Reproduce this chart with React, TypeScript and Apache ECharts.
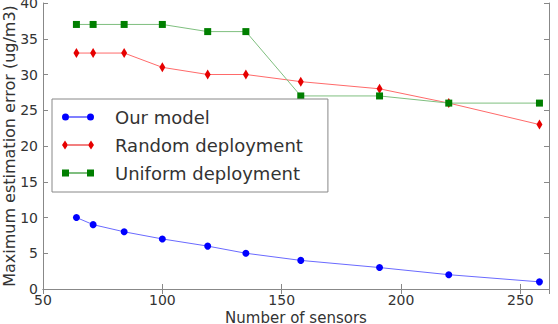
import React, { useEffect, useRef } from "react";
import * as echarts from "echarts";

const sensors = [64, 71, 84, 100, 119, 135, 158, 191, 220, 258];
const ourModel = [10, 9, 8, 7, 6, 5, 4, 3, 2, 1];
const randomDeployment = [33, 33, 33, 31, 30, 30, 29, 28, 26, 23];
const uniformDeployment = [37, 37, 37, 37, 36, 36, 27, 27, 26, 26];
const seriesNames = ["Our model", "Random deployment", "Uniform deployment"];

const FONT = "DejaVu Sans";

const iconCircle =
  "path://M0,3.5a3.5,3.5 0 1,0 7,0a3.5,3.5 0 1,0 -7,0zM7,3h18v1h-18zM25,3.5a3.5,3.5 0 1,0 7,0a3.5,3.5 0 1,0 -7,0z";
const iconDiamond =
  "path://M3,0L6,4.5L3,9L0,4.5zM6,4h20v1h-20zM29,0L32,4.5L29,9L26,4.5z";
const iconSquare = "path://M0,0h7v7h-7zM7,3h18v1h-18zM25,0h7v7h-7z";

export default function App() {
  const ref = useRef<HTMLDivElement>(null);
  useEffect(() => {
    if (!ref.current) return;
    const chart = echarts.init(ref.current, undefined, { renderer: "svg" });
    const pair = (ys: number[]) => sensors.map((x, i) => [x, ys[i]]);
    const frame = { lineStyle: { color: "#888", width: 1 } };
    const tick = { inside: true, length: 5, lineStyle: { color: "#888" } };
    chart.setOption({
      animation: false,
      textStyle: { fontFamily: FONT },
      grid: {
        left: 43,
        right: 9,
        top: 3,
        bottom: 35,
        containLabel: false,
        outerBoundsMode: "none",
      },
      legend: {
        orient: "vertical",
        left: 52,
        top: 99,
        backgroundColor: "#fff",
        borderColor: "#888",
        borderWidth: 1,
        borderRadius: 0,
        padding: [9, 25, 10, 10],
        itemWidth: 32,
        itemHeight: 10,
        itemGap: 10,
        textStyle: {
          fontFamily: FONT,
          fontSize: 18,
          lineHeight: 18,
          color: "#333",
          padding: [0, 0, 0, 16],
        },
        data: [
          { name: seriesNames[0], icon: iconCircle },
          { name: seriesNames[1], icon: iconDiamond },
          { name: seriesNames[2], icon: iconSquare },
        ],
      },
      xAxis: [
        {
          type: "value",
          min: 50,
          max: 262,
          interval: 50,
          name: "Number of sensors",
          nameLocation: "middle",
          nameGap: 21,
          nameMoveOverlap: false,
          nameTextStyle: { fontFamily: FONT, fontSize: 15, color: "#333" },
          axisLine: frame,
          axisTick: tick,
          splitLine: { show: false },
          axisLabel: {
            fontFamily: FONT,
            fontSize: 14,
            color: "#333",
            margin: 4,
            showMaxLabel: false,
          },
        },
        {
          type: "value",
          position: "top",
          min: 50,
          max: 262,
          interval: 50,
          axisLine: frame,
          axisTick: tick,
          splitLine: { show: false },
          axisLabel: { show: false },
        },
      ],
      yAxis: [
        {
          type: "value",
          min: 0,
          max: 40,
          interval: 5,
          name: "Maximum estimation error (ug/m3)",
          nameLocation: "middle",
          nameGap: 26,
          nameMoveOverlap: false,
          nameTextStyle: { fontFamily: FONT, fontSize: 16, color: "#333" },
          axisLine: { show: true, ...frame },
          axisTick: tick,
          splitLine: { show: false },
          axisLabel: { fontFamily: FONT, fontSize: 14, color: "#333", margin: 5 },
        },
        {
          type: "value",
          position: "right",
          min: 0,
          max: 40,
          interval: 5,
          axisLine: { show: true, ...frame },
          axisTick: tick,
          splitLine: { show: false },
          axisLabel: { show: false },
        },
      ],
      series: [
        {
          name: seriesNames[0],
          type: "line",
          data: pair(ourModel),
          symbol: "circle",
          symbolSize: 7,
          itemStyle: { color: "#0000ff" },
          lineStyle: { color: "#6a6aff", width: 1 },
        },
        {
          name: seriesNames[1],
          type: "line",
          data: pair(randomDeployment),
          symbol: "diamond",
          symbolSize: [6, 10],
          itemStyle: { color: "#e60000" },
          lineStyle: { color: "#ff6a6a", width: 1 },
        },
        {
          name: seriesNames[2],
          type: "line",
          data: pair(uniformDeployment),
          symbol: "rect",
          symbolSize: 7,
          itemStyle: { color: "#007f00" },
          lineStyle: { color: "#7fbf7f", width: 1 },
        },
      ],
    });
    return () => chart.dispose();
  }, []);
  return (
    <div
      ref={ref}
      style={{ position: "fixed", left: 0, top: 0, width: 558, height: 324, background: "#fff" }}
    />
  );
}
